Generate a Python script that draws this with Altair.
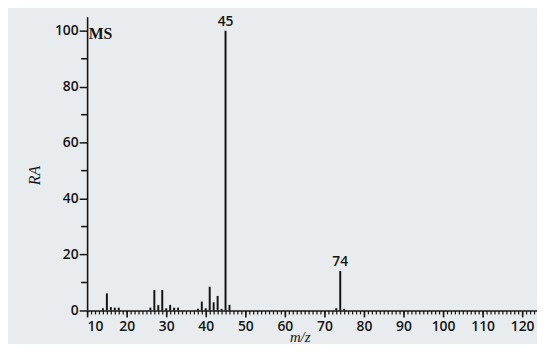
import altair as alt
import pandas as pd

mz = [14, 15, 16, 17, 18, 26, 27, 28, 29, 30, 31, 32, 33, 38, 39, 40, 41, 42, 43, 44, 45, 46, 73, 74, 75]
ra = [0.8, 6.1, 1.2, 1.0, 1.0, 1.0, 7.3, 1.9, 7.3, 0.8, 2.0, 1.0, 1.0, 0.6, 3.2, 0.8, 8.5, 2.9, 5.2, 0.6, 100, 2.0, 0.8, 14.1, 0.6]

peak_mz = [45, 74]
peak_ra = [100, 14.1]
peak_txt = ["45", "74"]

x_major = list(range(10, 121, 10))
x_minor = list(range(10, 124))
y_major = [0, 20, 40, 60, 80, 100]
y_minor = [10, 30, 50, 70, 90]

df = pd.DataFrame({"mz": mz, "ra": ra})
lab = pd.DataFrame({"mz": peak_mz, "ra": peak_ra, "t": peak_txt})
ms = pd.DataFrame({"mz": [10.4], "ra": [98.8], "t": ["MS"]})
ymin = pd.DataFrame({"v": y_minor})

INK = "#141414"
LFONT = "Open Sans"
xs = alt.Scale(domain=[10, 123.75], nice=False, zero=False)
ys = alt.Scale(domain=[0, 105], nice=False)

peaks = alt.Chart(df).mark_rule(color=INK, strokeWidth=2).encode(
    x=alt.X("mz:Q", scale=xs, axis=alt.Axis(
        values=x_major, orient="bottom", tickSize=6.5, tickWidth=1.6, tickColor=INK,
        domainColor=INK, domainWidth=1.6, labelFont=LFONT, labelFontSize=14,
        labelFontWeight=600, labelColor=INK, labelPadding=3, grid=False,
        title="m/z", titleFont="Liberation Serif", titleFontStyle="italic",
        titleFontSize=15, titleFontWeight="normal", titleColor=INK,
        titleX=215, titleY=26, titleBaseline="middle")),
    y=alt.Y("ra:Q", scale=ys, axis=alt.Axis(
        values=y_major, orient="left", tickSize=8, tickWidth=1.5, tickColor=INK,
        domainColor=INK, domainWidth=1.6, labelFont=LFONT, labelFontSize=14,
        labelFontWeight=600, labelColor=INK, labelPadding=1, grid=False,
        title="RA", titleFont="Liberation Serif", titleFontStyle="italic",
        titleFontSize=16, titleFontWeight="normal", titleColor=INK,
        titleX=-53, titleY=160, titleBaseline="middle", titleAlign="center")),
    y2=alt.datum(0),
)

minor = alt.Chart(df).mark_point(opacity=0).encode(
    x=alt.X("mz:Q", scale=xs, axis=alt.Axis(
        values=x_minor, orient="bottom", tickSize=3.5, tickWidth=1.2, tickColor=INK,
        domain=False, labels=False, grid=False, title=None)),
)

yminor = alt.Chart(ymin).mark_rule(color=INK, strokeWidth=1.6).encode(
    y=alt.Y("v:Q", scale=ys),
    x=alt.value(-6),
    x2=alt.value(0),
)

labels = alt.Chart(lab).mark_text(
    font=LFONT, fontSize=14, fontWeight=600, color=INK, baseline="bottom", dy=-2
).encode(x=alt.X("mz:Q", scale=xs, axis=None), y=alt.Y("ra:Q", scale=ys), text="t:N")

mstext = alt.Chart(ms).mark_text(
    font="Liberation Serif", fontSize=16, fontWeight="bold", color=INK,
    align="left", baseline="middle"
).encode(x=alt.X("mz:Q", scale=xs, axis=None), y=alt.Y("ra:Q", scale=ys), text="t:N")

chart = alt.layer(peaks, minor, yminor, labels, mstext).resolve_axis(
    x="independent"
).properties(
    width=455, height=297,
    padding={"left": 80, "top": 7, "right": 0, "bottom": 32},
    autosize=alt.AutoSizeParams(type="none"),
    background="#e9ecee",
).configure_view(stroke=None)

chart.save("out.html", embed_options={"renderer": "svg", "actions": False})
